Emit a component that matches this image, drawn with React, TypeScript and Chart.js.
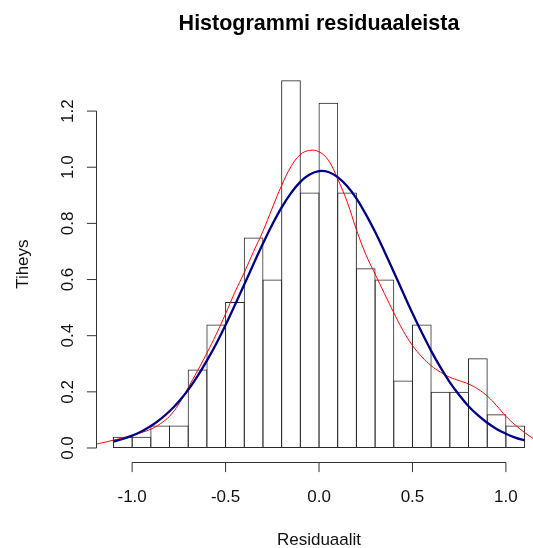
import React, { useEffect, useRef } from "react";
import { Chart, registerables } from "chart.js";

Chart.register(...registerables);

// Histogram bins (bin width 0.1, from -1.1 to 1.1), densities
const binCenters = [-1.05, -0.95, -0.85, -0.75, -0.65, -0.55, -0.45, -0.35, -0.25, -0.15, -0.05, 0.05, 0.15, 0.25, 0.35, 0.45, 0.55, 0.65, 0.75, 0.85, 0.95, 1.05];
const binDensity = [0.04, 0.04, 0.08, 0.08, 0.28, 0.44, 0.52, 0.75, 0.6, 1.31, 0.91, 1.23, 0.91, 0.64, 0.6, 0.24, 0.44, 0.2, 0.2, 0.32, 0.12, 0.08];

// Normal density curve (blue)
const normalX = [-1.1, -1.05, -1.0, -0.95, -0.9, -0.85, -0.8, -0.75, -0.7, -0.65, -0.6, -0.55, -0.5, -0.45, -0.4, -0.35, -0.3, -0.25, -0.2, -0.15, -0.1, -0.05, 0.0, 0.05, 0.1, 0.15, 0.2, 0.25, 0.3, 0.35, 0.4, 0.45, 0.5, 0.55, 0.6, 0.65, 0.7, 0.75, 0.8, 0.85, 0.9, 0.95, 1.0, 1.05, 1.1];
const normalY = [0.023, 0.032, 0.044, 0.059, 0.078, 0.102, 0.131, 0.166, 0.207, 0.256, 0.311, 0.371, 0.438, 0.509, 0.582, 0.656, 0.728, 0.796, 0.857, 0.908, 0.948, 0.974, 0.986, 0.983, 0.965, 0.933, 0.889, 0.833, 0.77, 0.7, 0.627, 0.553, 0.48, 0.411, 0.346, 0.287, 0.234, 0.189, 0.149, 0.117, 0.09, 0.068, 0.051, 0.037, 0.027];

// Kernel density curve (red)
const kdeX = [-1.2, -1.15, -1.1, -1.05, -1.0, -0.95, -0.9, -0.85, -0.8, -0.75, -0.7, -0.65, -0.6, -0.55, -0.5, -0.45, -0.4, -0.35, -0.3, -0.25, -0.2, -0.15, -0.1, -0.05, 0.0, 0.05, 0.1, 0.15, 0.2, 0.25, 0.3, 0.35, 0.4, 0.45, 0.5, 0.55, 0.6, 0.65, 0.7, 0.75, 0.8, 0.85, 0.9, 0.95, 1.0, 1.05, 1.1, 1.15];
const kdeY = [0.013, 0.02, 0.028, 0.036, 0.045, 0.055, 0.067, 0.086, 0.113, 0.157, 0.215, 0.275, 0.338, 0.405, 0.478, 0.555, 0.625, 0.7, 0.772, 0.855, 0.935, 1.002, 1.045, 1.06, 1.055, 1.025, 0.958, 0.878, 0.778, 0.69, 0.62, 0.55, 0.482, 0.418, 0.365, 0.325, 0.293, 0.27, 0.252, 0.24, 0.228, 0.21, 0.185, 0.151, 0.113, 0.082, 0.055, 0.032];

// Axis ticks
const xTicks = [-1.0, -0.5, 0.0, 0.5, 1.0];
const xTickLabels = ["-1.0", "-0.5", "0.0", "0.5", "1.0"];
const yTicks = [0.0, 0.2, 0.4, 0.6, 0.8, 1.0, 1.2];
const yTickLabels = ["0.0", "0.2", "0.4", "0.6", "0.8", "1.0", "1.2"];

const titleText = "Histogrammi residuaaleista";
const xLabel = "Residuaalit";
const yLabel = "Tiheys";

const FONT = '"Liberation Sans", Arial, "DejaVu Sans", sans-serif';

const rAxesPlugin = {
  id: "rAxes",
  afterDraw(chart: any) {
    const { ctx, chartArea, scales } = chart;
    const xs = scales.x;
    const ys = scales.y;
    const axisY = Math.floor(chartArea.bottom) + 0.5;
    const axisX = chartArea.left - 0.5;
    const tickLen = 9.6;
    ctx.save();
    ctx.strokeStyle = "#333";
    ctx.lineWidth = 1;
    ctx.fillStyle = "#111";

    // x axis
    ctx.beginPath();
    ctx.moveTo(xs.getPixelForValue(xTicks[0]), axisY);
    ctx.lineTo(xs.getPixelForValue(xTicks[xTicks.length - 1]), axisY);
    xTicks.forEach((v) => {
      const p = xs.getPixelForValue(v);
      ctx.moveTo(p, axisY);
      ctx.lineTo(p, axisY + tickLen);
    });
    ctx.stroke();
    ctx.font = `17px ${FONT}`;
    ctx.textAlign = "center";
    ctx.textBaseline = "alphabetic";
    xTicks.forEach((v, i) => {
      ctx.fillText(xTickLabels[i], xs.getPixelForValue(v), 501.7);
    });

    // y axis
    ctx.beginPath();
    ctx.moveTo(axisX, ys.getPixelForValue(yTicks[0]));
    ctx.lineTo(axisX, ys.getPixelForValue(yTicks[yTicks.length - 1]));
    yTicks.forEach((v) => {
      const p = ys.getPixelForValue(v);
      ctx.moveTo(axisX, p);
      ctx.lineTo(axisX - tickLen, p);
    });
    ctx.stroke();
    yTicks.forEach((v, i) => {
      ctx.save();
      ctx.translate(72.5, ys.getPixelForValue(v));
      ctx.rotate(-Math.PI / 2);
      ctx.fillText(yTickLabels[i], 0, 0);
      ctx.restore();
    });

    // labels
    const cx = 319;
    ctx.fillText(xLabel, cx, 545);
    ctx.save();
    ctx.translate(27.5, (chartArea.top + chartArea.bottom) / 2);
    ctx.rotate(-Math.PI / 2);
    ctx.fillText(yLabel, 0, 0);
    ctx.restore();

    ctx.font = `bold 21.5px ${FONT}`;
    ctx.fillStyle = "#000";
    ctx.fillText(titleText, cx, 29.5);
    ctx.restore();
  },
};

export default function App() {
  const ref = useRef<HTMLCanvasElement>(null);

  useEffect(() => {
    const canvas = ref.current;
    if (!canvas) return;
    const chart = new Chart(canvas, {
      type: "bar",
      data: {
        datasets: [
          {
            type: "line",
            data: normalX.map((x, i) => ({ x, y: normalY[i] })),
            borderColor: "#00008B",
            borderWidth: 2.3,
            pointRadius: 0,
            fill: false,
            tension: 0.4,
            order: 0,
          } as any,
          {
            type: "line",
            data: kdeX.map((x, i) => ({ x, y: kdeY[i] })),
            borderColor: "#FF0000",
            borderWidth: 1,
            pointRadius: 0,
            fill: false,
            tension: 0.4,
            order: 1,
          } as any,
          {
            type: "bar",
            data: binCenters.map((x, i) => ({ x, y: binDensity[i] })),
            backgroundColor: "rgba(0,0,0,0)",
            borderColor: "#2a2a2a",
            borderWidth: 1,
            borderSkipped: false,
            barPercentage: 1.0535,
            categoryPercentage: 1,
            inflateAmount: 0,
            order: 2,
          } as any,
        ],
      },
      options: {
        animation: false,
        responsive: false,
        maintainAspectRatio: false,
        events: [],
        layout: { padding: { left: 97, right: 0, top: 65.6, bottom: 85.3 } },
        scales: {
          x: { type: "linear", min: -1.188, max: 1.145, offset: false, display: false, grid: { offset: false } },
          y: { type: "linear", min: -0.0524, max: 1.362, display: false },
        },
        plugins: {
          legend: { display: false },
          tooltip: { enabled: false },
          title: { display: false },
        },
      } as any,
      plugins: [rAxesPlugin],
    });
    return () => chart.destroy();
  }, []);

  return (
    <div style={{ position: "absolute", left: 0, top: 0, width: 533, height: 548, background: "#fff", overflow: "hidden" }}>
      <canvas ref={ref} width={533} height={548} style={{ display: "block", width: 533, height: 548 }} />
    </div>
  );
}
